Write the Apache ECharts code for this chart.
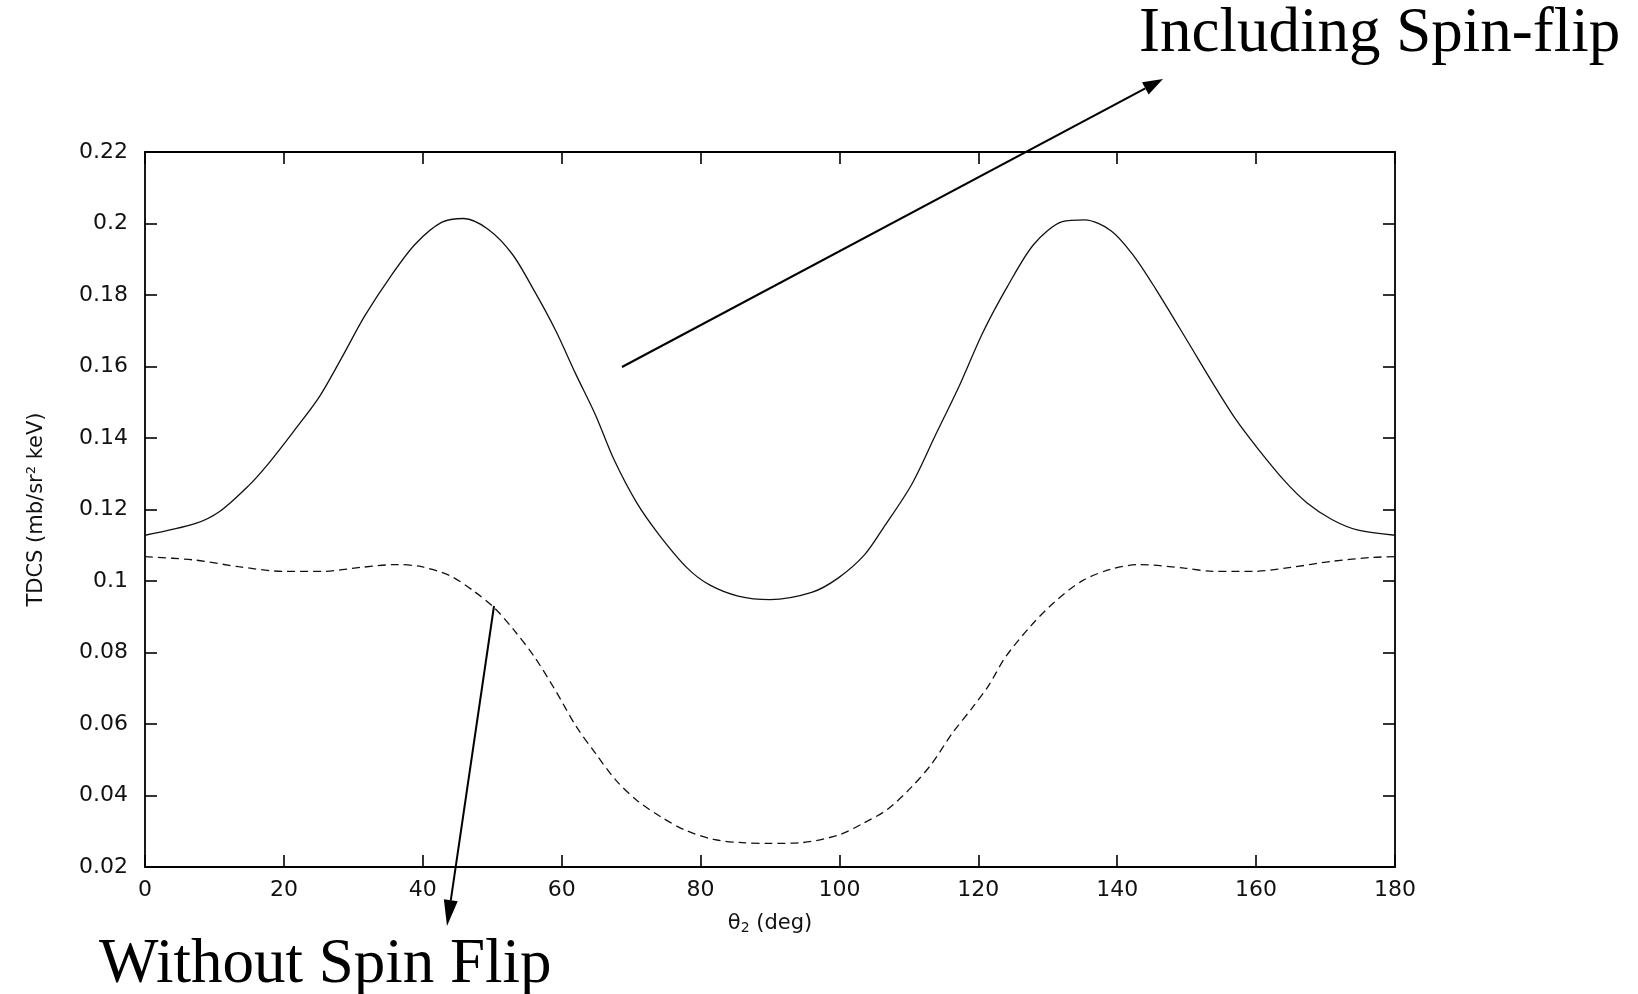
<!DOCTYPE html>
<html>
<head>
<meta charset="utf-8">
<script src="https://cdn.jsdelivr.net/npm/echarts@6/dist/echarts.min.js"></script>
<style>
html,body{margin:0;padding:0;background:#fff;}
#c{width:1638px;height:994px;}
</style>
</head>
<body>
<div id="c"></div>
<script>
// ---- data ----
const solidDeg = [0, 7.3, 10.8, 14.9, 17.5, 21.3, 25.1, 28.4, 31.6, 35.4, 38.9, 42.7, 45.9, 49.4, 52.9, 56.1, 59.1, 62, 64.9, 67.5, 70.8, 74, 78.1, 81.3, 85.4, 90, 96, 99.8, 103.6, 106.3, 110.4, 113.9, 117.4, 120.6, 124.2, 128, 132.1, 135.3, 139.1, 142.4, 145.6, 150.3, 153.8, 157, 160.3, 164.1, 167.3, 170.9, 174.7, 180];
const solidVal = [0.1128, 0.1161, 0.1195, 0.1266, 0.1322, 0.1416, 0.1515, 0.1627, 0.174, 0.1853, 0.1942, 0.2003, 0.2014, 0.1984, 0.1914, 0.181, 0.1702, 0.158, 0.1463, 0.1341, 0.1219, 0.113, 0.1036, 0.0989, 0.0958, 0.0948, 0.0968, 0.1008, 0.1073, 0.1148, 0.127, 0.1411, 0.1552, 0.1693, 0.1824, 0.1942, 0.2005, 0.201, 0.198, 0.1909, 0.1815, 0.1665, 0.1552, 0.1454, 0.1369, 0.128, 0.1219, 0.1172, 0.1142, 0.1128];
const dashDeg = [0, 7, 13.5, 19.9, 25.7, 31, 36.3, 39.8, 43.9, 47.4, 50.3, 53.2, 56.1, 59.1, 62, 64.9, 67.8, 70.8, 74.3, 77.8, 81.9, 86, 90, 94.5, 99.8, 103.4, 106.9, 110.4, 113.3, 116.2, 119.2, 121.5, 123.9, 127.4, 130.9, 135, 139.1, 143.2, 149.7, 153.8, 159.7, 165, 170.9, 176.8, 180];
const dashVal = [0.1068, 0.1059, 0.104, 0.1027, 0.1027, 0.1038, 0.1046, 0.104, 0.1015, 0.0971, 0.0925, 0.0861, 0.0787, 0.0694, 0.0596, 0.0517, 0.0443, 0.0387, 0.034, 0.0303, 0.0277, 0.0268, 0.0266, 0.0268, 0.0289, 0.0322, 0.0361, 0.0424, 0.0489, 0.0573, 0.0647, 0.0708, 0.0787, 0.0871, 0.094, 0.1001, 0.1033, 0.1046, 0.1036, 0.1027, 0.1027, 0.1038, 0.1055, 0.1066, 0.1068];
const xTicks = {min: 0, max: 180, step: 20};
const yTicks = {min: 0.02, max: 0.22, step: 0.02};
const xName = 'θ{sub|2} (deg)';
const yName = 'TDCS (mb/sr{sup|2} keV)';
const noteTop = 'Including Spin-flip';
const noteBottom = 'Without Spin Flip';

// ---- chart ----
const chart = echarts.init(document.getElementById('c'), null, {renderer: 'canvas'});
const LBL = 'DejaVu Sans';
const axisLineStyle = {color: '#000', width: 1.8};
const tickStyle = {color: '#000', width: 1.6};

function xAx(pos, show) {
  return {
    type: 'value', position: pos, min: xTicks.min, max: xTicks.max, interval: xTicks.step,
    axisLine: {show: true, onZero: false, lineStyle: axisLineStyle},
    axisTick: {show: true, inside: true, length: 12, lineStyle: tickStyle},
    axisLabel: {show: show, margin: 12, fontFamily: LBL, fontSize: 22, color: '#111'},
    splitLine: {show: false},
    name: show ? xName : '', nameLocation: 'middle', nameGap: 45,
    nameTextStyle: {fontFamily: LBL, fontSize: 21, color: '#111',
      rich: {sub: {fontFamily: LBL, fontSize: 14, color: '#111', verticalAlign: 'bottom', padding: [9, 0, 0, 0]}}}
  };
}
function yAx(pos, show) {
  return {
    type: 'value', position: pos, min: yTicks.min, max: yTicks.max, interval: yTicks.step,
    axisLine: {show: true, onZero: false, lineStyle: axisLineStyle},
    axisTick: {show: true, inside: true, length: 12, lineStyle: tickStyle},
    axisLabel: {show: show, margin: 17, fontFamily: LBL, fontSize: 22, color: '#111',
      formatter: v => String(+v.toFixed(2))},
    splitLine: {show: false},
    name: show ? yName : '', nameLocation: 'middle', nameGap: 97, nameRotate: 90,
    nameTextStyle: {fontFamily: LBL, fontSize: 21, color: '#111',
      rich: {sup: {fontFamily: LBL, fontSize: 13, color: '#111', verticalAlign: 'top', padding: [0, 0, 10, 0]}}}
  };
}

const option = {
  backgroundColor: '#fff',
  animation: false,
  grid: {left: 145, top: 152, right: 243, bottom: 127, containLabel: false},
  xAxis: [xAx('bottom', true), xAx('top', false)],
  yAxis: [yAx('left', true), yAx('right', false)],
  series: [
    {type: 'line', name: 'Including Spin-flip', xAxisIndex: 0, yAxisIndex: 0,
     data: solidDeg.map((d, i) => [d, solidVal[i]]), smooth: 0.3, showSymbol: false,
     lineStyle: {color: '#111', width: 1.3}},
    {type: 'line', name: 'Without Spin Flip', xAxisIndex: 0, yAxisIndex: 0,
     data: dashDeg.map((d, i) => [d, dashVal[i]]), smooth: 0.3, showSymbol: false,
     lineStyle: {color: '#111', width: 1.3, type: [8, 5]}}
  ]
};
chart.setOption(option);

// ---- annotations (slide overlay) ----
function arrow(tail, tip, headLen, halfW) {
  const dx = tip[0] - tail[0], dy = tip[1] - tail[1];
  const L = Math.hypot(dx, dy), ux = dx / L, uy = dy / L;
  const bx = tip[0] - ux * headLen, by = tip[1] - uy * headLen;
  return [
    {type: 'line', shape: {x1: tail[0], y1: tail[1], x2: bx, y2: by},
     style: {stroke: '#000', lineWidth: 2}, z: 100},
    {type: 'polygon', shape: {points: [tip, [bx - uy * halfW, by + ux * halfW], [bx + uy * halfW, by - ux * halfW]]},
     style: {fill: '#000'}, z: 100}
  ];
}
const FS = 63;
chart.setOption({
  graphic: [
    {type: 'text', left: 1139, top: 3, z: 100,
     style: {text: noteTop, fontFamily: '"Liberation Serif", "Times New Roman", serif', fontSize: FS, fill: '#000'}},
    {type: 'text', left: 99, top: 934, z: 100,
     style: {text: noteBottom, fontFamily: '"Liberation Serif", "Times New Roman", serif', fontSize: FS, fill: '#000'}},
    ...arrow([622, 367], [1163, 79], 20, 7),
    ...arrow([494, 606], [447, 926], 26, 7)
  ]
});
</script>
</body>
</html>
